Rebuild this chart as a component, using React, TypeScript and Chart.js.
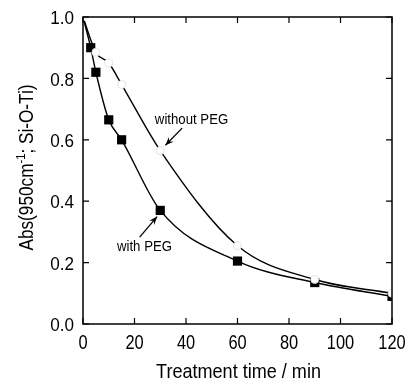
import React, { useEffect, useRef } from "react";
import { Chart, registerables } from "chart.js";
Chart.register(...registerables);

const timeWith = [0, 3, 5, 10, 15, 30, 60, 90, 120];
const absWith = [1.0, 0.9, 0.82, 0.665, 0.6, 0.37, 0.205, 0.135, 0.09];
const markWith = [false, true, true, true, true, true, true, true, true];
const timeWithout = [0, 5, 10, 15, 30, 60, 90, 120];
const absWithout = [1.0, 0.885, 0.85, 0.78, 0.565, 0.255, 0.145, 0.1];
const xTicks = [0, 20, 40, 60, 80, 100, 120];
const yTicks = [0, 0.2, 0.4, 0.6, 0.8, 1.0];
const labelWithout = "without PEG";
const labelWith = "with PEG";
const xTitle = "Treatment time / min";
const yTitleParts = ["Abs(950cm", "-1", "; Si-O-Ti)"];

const FONT = "'Liberation Sans', Arial, sans-serif";

// draw horizontally condensed text
function condText(ctx: any, text: string, x: number, y: number, size: number, sx: number, align: string) {
  ctx.save();
  ctx.font = `${size}px ${FONT}`;
  ctx.translate(x, y);
  ctx.scale(sx, 1);
  ctx.textAlign = align;
  ctx.fillText(text, 0, 0);
  ctx.restore();
}

const framePlugin = {
  id: "frame",
  afterDraw(chart: any) {
    const { ctx, chartArea: a, scales } = chart;
    const x = scales.x, y = scales.y;
    ctx.save();
    ctx.strokeStyle = "#000";
    ctx.fillStyle = "#000";
    ctx.lineWidth = 1.5;
    ctx.strokeRect(a.left, a.top, a.right - a.left, a.bottom - a.top);
    ctx.lineWidth = 1.2;
    const L = 6;
    ctx.textBaseline = "middle";
    xTicks.forEach((t) => {
      const px = x.getPixelForValue(t);
      ctx.beginPath();
      ctx.moveTo(px, a.bottom); ctx.lineTo(px, a.bottom - L);
      ctx.moveTo(px, a.top); ctx.lineTo(px, a.top + L);
      ctx.stroke();
      condText(ctx, String(t), px, a.bottom + 19, 20, 0.82, "center");
    });
    yTicks.forEach((t) => {
      const py = y.getPixelForValue(t);
      ctx.beginPath();
      ctx.moveTo(a.left, py); ctx.lineTo(a.left + L, py);
      ctx.moveTo(a.right, py); ctx.lineTo(a.right - L, py);
      ctx.stroke();
      condText(ctx, t.toFixed(1), a.left - 9, py + 2, 19, 0.9, "right");
    });
    // annotations
    const arrow = (x1: number, y1: number, x2: number, y2: number) => {
      const p1x = x.getPixelForValue(x1), p1y = y.getPixelForValue(y1);
      const p2x = x.getPixelForValue(x2), p2y = y.getPixelForValue(y2);
      ctx.lineWidth = 1.3;
      ctx.beginPath();
      ctx.moveTo(p1x, p1y); ctx.lineTo(p2x, p2y); ctx.stroke();
      const ang = Math.atan2(p2y - p1y, p2x - p1x);
      const h = 9;
      ctx.beginPath();
      ctx.moveTo(p2x, p2y);
      ctx.lineTo(p2x - h * Math.cos(ang - 0.38), p2y - h * Math.sin(ang - 0.38));
      ctx.lineTo(p2x - h * 0.6 * Math.cos(ang), p2y - h * 0.6 * Math.sin(ang));
      ctx.lineTo(p2x - h * Math.cos(ang + 0.38), p2y - h * Math.sin(ang + 0.38));
      ctx.closePath();
      ctx.fill();
    };
    condText(ctx, labelWithout, x.getPixelForValue(27.9), y.getPixelForValue(0.665), 15, 0.88, "left");
    condText(ctx, labelWith, x.getPixelForValue(13.2), y.getPixelForValue(0.25), 15, 0.88, "left");
    arrow(38.5, 0.638, 32.0, 0.582);
    arrow(22.0, 0.283, 28.8, 0.35);

    // x title
    ctx.textBaseline = "alphabetic";
    condText(ctx, xTitle, (a.left + a.right) / 2 + 1, 378, 21, 0.86, "center");

    // y title with superscript
    ctx.translate(33, (a.top + a.bottom) / 2 - 3);
    ctx.rotate(-Math.PI / 2);
    ctx.scale(0.86, 1);
    const big = `20px ${FONT}`, small = `13px ${FONT}`;
    ctx.font = big;
    const w0 = ctx.measureText(yTitleParts[0]).width;
    const w2 = ctx.measureText(yTitleParts[2]).width;
    ctx.font = small;
    const w1 = ctx.measureText(yTitleParts[1]).width;
    let cx = -(w0 + w1 + w2) / 2;
    ctx.textAlign = "left";
    ctx.font = big;
    ctx.fillText(yTitleParts[0], cx, 0);
    cx += w0;
    ctx.font = small;
    ctx.fillText(yTitleParts[1], cx, -8);
    cx += w1;
    ctx.font = big;
    ctx.fillText(yTitleParts[2], cx, 0);
    ctx.restore();
  },
};

export default function App() {
  const ref = useRef<HTMLCanvasElement>(null);
  useEffect(() => {
    if (!ref.current) return;
    const chart = new Chart(ref.current, {
      type: "line",
      data: {
        datasets: [
          {
            label: labelWithout,
            data: timeWithout.map((t, i) => ({ x: t, y: absWithout[i] })),
            borderColor: "#000",
            borderWidth: 1.4,
            cubicInterpolationMode: "monotone",
            pointStyle: "circle",
            pointRadius: 4,
            pointBackgroundColor: "#fff",
            pointBorderColor: "#ddd",
            pointBorderWidth: 0.8,
            order: 1,
          },
          {
            label: labelWith,
            data: timeWith.map((t, i) => ({ x: t, y: absWith[i] })),
            borderColor: "#000",
            borderWidth: 1.4,
            cubicInterpolationMode: "monotone",
            pointStyle: "rect",
            pointRadius: markWith.map((m) => (m ? 6.5 : 0)),
            pointBackgroundColor: "#000",
            pointBorderColor: "#000",
            pointBorderWidth: 0,
            order: 2,
          },
        ],
      },
      options: {
        animation: false,
        responsive: false,
        maintainAspectRatio: false,
        layout: { padding: { top: 17, right: 16, left: 0, bottom: 0 } },
        plugins: { legend: { display: false }, tooltip: { enabled: false } },
        scales: {
          x: {
            type: "linear",
            min: 0,
            max: 120,
            afterFit: (s: any) => { s.height = 57; },
            afterBuildTicks: (s: any) => { s.ticks = xTicks.map((v) => ({ value: v })); },
            grid: { display: false },
            border: { display: false },
            ticks: { display: false },
          },
          y: {
            type: "linear",
            min: 0,
            max: 1.0,
            afterFit: (s: any) => { s.width = 83; },
            afterBuildTicks: (s: any) => { s.ticks = yTicks.map((v) => ({ value: v })); },
            grid: { display: false },
            border: { display: false },
            ticks: { display: false },
          },
        },
      },
      plugins: [framePlugin],
    } as any);
    return () => chart.destroy();
  }, []);
  return (
    <div style={{ position: "fixed", left: 0, top: 0, width: 408, height: 381, background: "#fff" }}>
      <canvas ref={ref} width={408} height={381} />
    </div>
  );
}
